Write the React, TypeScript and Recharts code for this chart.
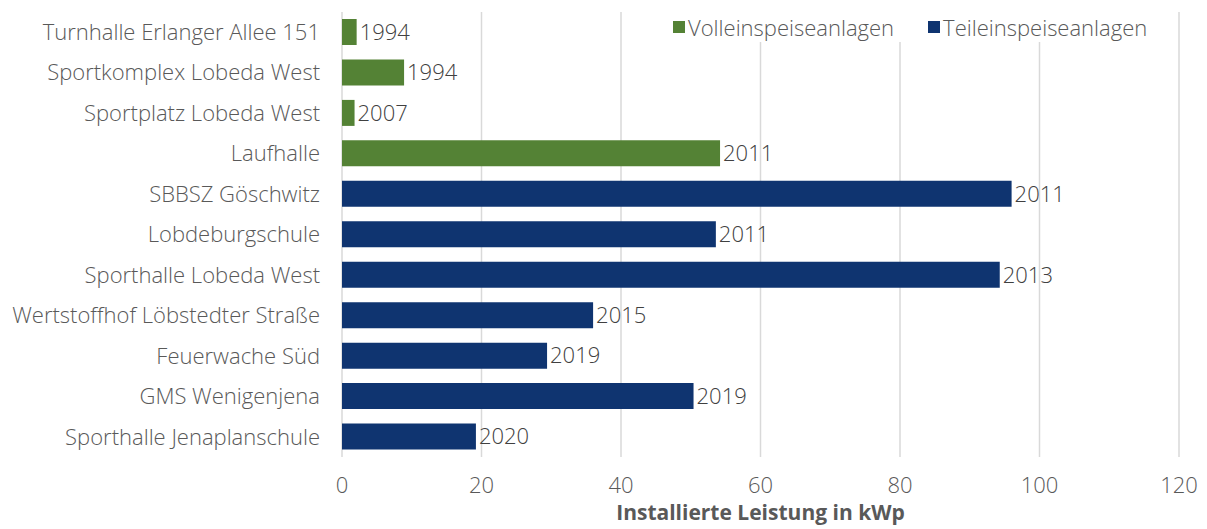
import {
  BarChart,
  Bar,
  XAxis,
  YAxis,
  CartesianGrid,
  Cell,
  LabelList,
} from 'recharts'

const sites = [
  'Turnhalle Erlanger Allee 151',
  'Sportkomplex Lobeda West',
  'Sportplatz Lobeda West',
  'Laufhalle',
  'SBBSZ Göschwitz',
  'Lobdeburgschule',
  'Sporthalle Lobeda West',
  'Wertstoffhof Löbstedter Straße',
  'Feuerwache Süd',
  'GMS Wenigenjena',
  'Sporthalle Jenaplanschule',
]
const kwp = [2.1, 8.9, 1.8, 54.2, 96.0, 53.6, 94.3, 36.0, 29.4, 50.4, 19.2]
const years = [1994, 1994, 2007, 2011, 2011, 2011, 2013, 2015, 2019, 2019, 2020]
const kind = ['voll', 'voll', 'voll', 'voll', 'teil', 'teil', 'teil', 'teil', 'teil', 'teil', 'teil']
const xTicks = [0, 20, 40, 60, 80, 100, 120]

const GREEN = '#548235'
const BLUE = '#0f3470'
const FONT = '"Open Sans", sans-serif'
const TEXT = '#595959'

const data = sites.map((name, i) => ({
  name,
  kwp: kwp[i],
  year: years[i],
  kind: kind[i],
}))

const legendItems = [
  { label: 'Volleinspeiseanlagen', color: GREEN },
  { label: 'Teileinspeiseanlagen', color: BLUE },
]

function LegendBox() {
  return (
    <div
      style={{
        position: 'absolute',
        left: 673,
        top: 12,
        display: 'flex',
        gap: 34,
        fontFamily: FONT,
        fontWeight: 300,
        fontSize: 22,
        color: TEXT,
        lineHeight: '30px',
        background: '#fff',
      }}
    >
      {legendItems.map((it) => (
        <div key={it.label} style={{ display: 'flex', alignItems: 'center' }}>
          <span style={{ width: 12, height: 12, background: it.color, marginRight: 3 }} />
          <span>{it.label}</span>
        </div>
      ))}
    </div>
  )
}

export default function App() {
  return (
    <div style={{ position: 'absolute', left: 0, top: 0, width: 1207, height: 529, background: '#fff' }}>
      <BarChart
        width={1207}
        height={529}
        data={data}
        layout="vertical"
        margin={{ top: 12, right: 28, bottom: 0, left: 0 }}
        barCategoryGap={0}
      >
        <CartesianGrid horizontal={false} stroke="#d9d9d9" strokeWidth={1.5} />
        <XAxis
          type="number"
          domain={[0, 120]}
          ticks={xTicks}
          axisLine={false}
          tickLine={false}
          tickSize={0}
          tickMargin={20}
          height={72}
          tick={{ fill: TEXT, fontSize: 22, fontFamily: FONT, fontWeight: 300 }}
          label={{
            value: 'Installierte Leistung in kWp',
            position: 'insideBottom',
            offset: 9,
            fill: TEXT,
            fontSize: 21,
            fontWeight: 700,
            fontFamily: FONT,
          }}
        />
        <YAxis
          type="category"
          dataKey="name"
          width={342}
          axisLine={false}
          tickLine={false}
          tickSize={0}
          tickMargin={22}
          interval={0}
          tick={{ fill: TEXT, fontSize: 22, fontFamily: FONT, fontWeight: 300 }}
        />
        <Bar dataKey="kwp" barSize={26} isAnimationActive={false}>
          {data.map((d) => (
            <Cell key={d.name} fill={d.kind === 'voll' ? GREEN : BLUE} />
          ))}
          <LabelList
            dataKey="year"
            position="right"
            offset={3}
            fill="#404040"
            fontSize={22}
            fontWeight={300}
            fontFamily={FONT}
          />
        </Bar>
      </BarChart>
      <LegendBox />
    </div>
  )
}
